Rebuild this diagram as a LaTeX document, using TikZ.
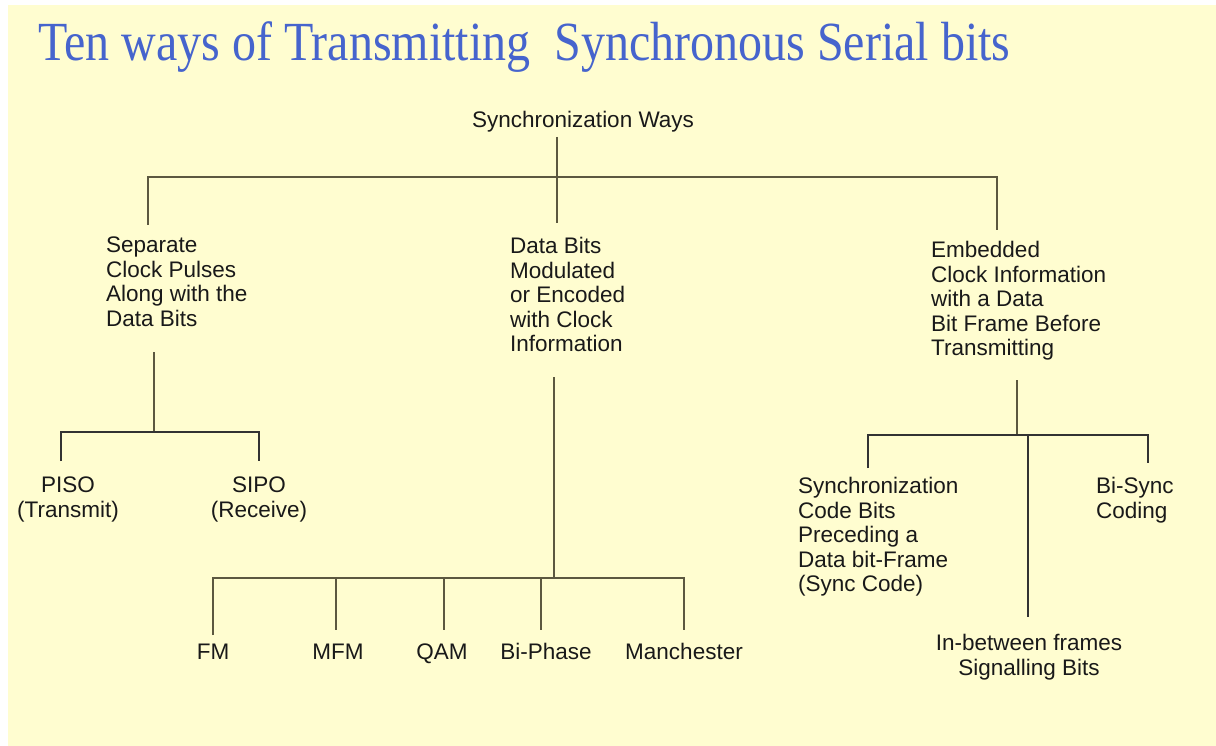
\documentclass[tikz,border=0pt]{standalone}
\usepackage{fontspec}
\setmainfont{Liberation Sans}
\newfontfamily\titlefont{Liberation Serif}
\definecolor{slidebg}{RGB}{255,253,208}
\definecolor{titleblue}{RGB}{70,100,205}
\definecolor{linkgrey}{RGB}{92,88,64}
\definecolor{inkdark}{RGB}{25,25,25}
\begin{document}
\begin{tikzpicture}[x=1pt,y=-1pt,
  lbl/.style={inner sep=0pt, text=inkdark, font=\fontsize{22.5}{24.5}\selectfont},
  block/.style={lbl, align=left, anchor=north west},
  leaf/.style={lbl, align=center, anchor=base},
  leafblock/.style={lbl, align=center, anchor=north},
  link/.style={draw=linkgrey, line width=1.5pt},
  darklink/.style={draw=black!80, line width=1.5pt}]

% slide background
\fill[white] (0,0) rectangle (1216,746);
\fill[slidebg] (8,5) rectangle (1216,746);
\useasboundingbox (0,0) rectangle (1216,746);

% title (tall, narrow serif lettering)
\node[anchor=base west, inner sep=0pt, text=titleblue,
      font=\titlefont\fontsize{48}{50}\selectfont] (title) at (38,61)
  {\scalebox{1}[1.15]{Ten ways of Transmitting\ \ Synchronous Serial bits}};

% root and first level
\node[lbl, anchor=base west] (root) at (472,128) {Synchronization Ways};
\node[block] (sep) at (106,237) {Separate\\Clock Pulses\\Along with the\\Data Bits};
\node[block] (mod) at (510,237) {Data Bits\\Modulated\\or Encoded\\with Clock\\Information};
\node[block] (emb) at (931,241) {Embedded\\Clock Information\\with a Data\\Bit Frame Before\\Transmitting};

% separate clock branch
\node[leafblock] (piso) at (68,477) {PISO\\(Transmit)};
\node[leafblock] (sipo) at (259,477) {SIPO\\(Receive)};

% modulation branch
\node[leaf] (fm)  at (213,659) {FM};
\node[leaf] (mfm) at (338,659) {MFM};
\node[leaf] (qam) at (442,659) {QAM};
\node[leaf] (biphase) at (546,659) {Bi-Phase};
\node[leaf] (manch) at (684,659) {Manchester};

% embedded clock branch
\node[block] (synccode) at (798,477) {Synchronization\\Code Bits\\Preceding a\\Data bit-Frame\\(Sync Code)};
\node[block] (bisync) at (1096,477) {Bi-Sync\\Coding};
\node[leafblock] (inbetween) at (1029,634) {In-between frames\\Signalling Bits};

% junction points
\coordinate (rootend) at (557,137);
\coordinate (j0) at (557,177);
\coordinate (sepin) at (148,225);
\coordinate (modin) at (557,223);
\coordinate (embin) at (997,230);
\coordinate (busL) at (148,177);
\coordinate (busR) at (997,177);

\coordinate (sepout) at (154,352);
\coordinate (j1) at (154,432);
\coordinate (pisoin) at (61,461);
\coordinate (sipoin) at (259,461);

\coordinate (modout) at (554,377);
\coordinate (j2) at (554,578);
\coordinate (fmin) at (213,635);
\coordinate (mfmin) at (336,630);
\coordinate (qamin) at (444,630);
\coordinate (biphasein) at (541,630);
\coordinate (manchin) at (684,630);

\coordinate (embout) at (1017,380);
\coordinate (j3) at (1017,435);
\coordinate (synccodein) at (868,468);
\coordinate (bisyncin) at (1148,463);
\coordinate (inbetweenin) at (1028,617);

% connectors: first level
\draw[link] (rootend) -- (modin);
\draw[link] (sepin) -- (busL) -- (busR) -- (embin);

% connectors: separate clock branch
\draw[link] (sepout) -- (j1);
\draw[darklink] (pisoin) -- (pisoin |- j1) -- (sipoin |- j1) -- (sipoin);

% connectors: modulation branch
\draw[link] (modout) -- (j2);
\draw[link] (fmin) -- (fmin |- j2) -- (manchin |- j2) -- (manchin);
\draw[link] (mfmin |- j2) -- (mfmin);
\draw[link] (qamin |- j2) -- (qamin);
\draw[link] (biphasein |- j2) -- (biphasein);

% connectors: embedded clock branch
\draw[link] (embout) -- (j3);
\draw[darklink] (synccodein) -- (synccodein |- j3) -- (bisyncin |- j3) -- (bisyncin);
\draw[darklink] (inbetweenin |- j3) -- (inbetweenin);
\end{tikzpicture}
\end{document}
